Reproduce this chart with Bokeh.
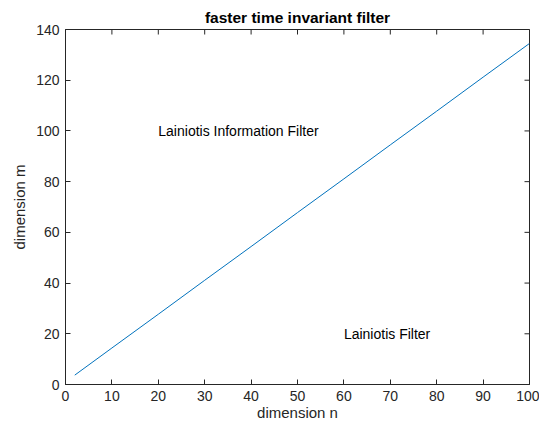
import math
from bokeh.plotting import figure
from bokeh.models import Range1d, LinearAxis, FixedTicker, Label
from bokeh.embed import file_html
from bokeh.resources import INLINE

# data
n_vals = [2, 10, 20, 30, 40, 50, 60, 70, 80, 90, 100]
m_vals = [3.7, 14.4, 27.7, 41.1, 54.4, 67.8, 81.1, 94.5, 107.8, 121.2, 134.5]
x_ticks = [0, 10, 20, 30, 40, 50, 60, 70, 80, 90, 100]
y_ticks = [0, 20, 40, 60, 80, 100, 120, 140]
title_text = "faster time invariant filter"
x_label = "dimension n"
y_label = "dimension m"
annotations = [("Lainiotis Information Filter", 20, 100), ("Lainiotis Filter", 60, 20)]

FONT = "Liberation Sans"
DARK = "#262626"

x_min, x_max = x_ticks[0], x_ticks[-1]
y_min, y_max = y_ticks[0], y_ticks[-1]

p = figure(width=539, height=423, output_backend="svg", toolbar_location=None,
           x_range=Range1d(x_min, x_max), y_range=Range1d(y_min, y_max),
           min_border_left=65, min_border_right=10, min_border_top=29,
           min_border_bottom=39, x_axis_type=None, y_axis_type=None)

p.title.text = title_text
p.title.text_font = FONT
p.title.text_font_size = "15.5px"
p.title.text_font_style = "bold"
p.title.text_color = "#000000"
p.title.align = "center"
p.title.standoff = 7

p.xgrid.visible = False
p.ygrid.visible = False
p.outline_line_color = DARK
p.outline_line_width = 1


def style_axis(ax):
    ax.major_tick_in = 5
    ax.major_tick_out = 0
    ax.minor_tick_in = 0
    ax.minor_tick_out = 0
    ax.axis_line_color = DARK
    ax.major_tick_line_color = DARK
    ax.major_label_text_color = DARK
    ax.major_label_text_font = FONT
    ax.major_label_text_font_size = "14px"
    ax.axis_label_text_font = FONT
    ax.axis_label_text_font_style = "normal"
    ax.axis_label_text_color = DARK
    ax.axis_label_text_font_size = "15px"


xb = LinearAxis(ticker=FixedTicker(ticks=x_ticks), axis_label=x_label)
style_axis(xb)
xb.major_label_standoff = 6
xb.axis_label_standoff = 0
p.add_layout(xb, "below")

yl = LinearAxis(ticker=FixedTicker(ticks=y_ticks), axis_label=y_label)
style_axis(yl)
yl.major_label_standoff = 6
yl.axis_label_standoff = 5
p.add_layout(yl, "left")

# box ticks on the top and right edges (half of each dash is clipped by the frame)
p.scatter(x=x_ticks, y=[y_max] * len(x_ticks), marker="dash", size=10,
          angle=math.pi / 2, line_color=DARK, line_width=1)
p.scatter(x=[x_max] * len(y_ticks), y=y_ticks, marker="dash", size=10,
          line_color=DARK, line_width=1)

p.line(n_vals, m_vals, line_color="#0072BD", line_width=1)

for txt, x, y in annotations:
    p.add_layout(Label(x=x, y=y, text=txt, text_font=FONT, text_font_size="14px",
                       text_color="#000000", text_baseline="middle", text_align="left"))

open("out.html", "w").write(file_html(p, INLINE))
